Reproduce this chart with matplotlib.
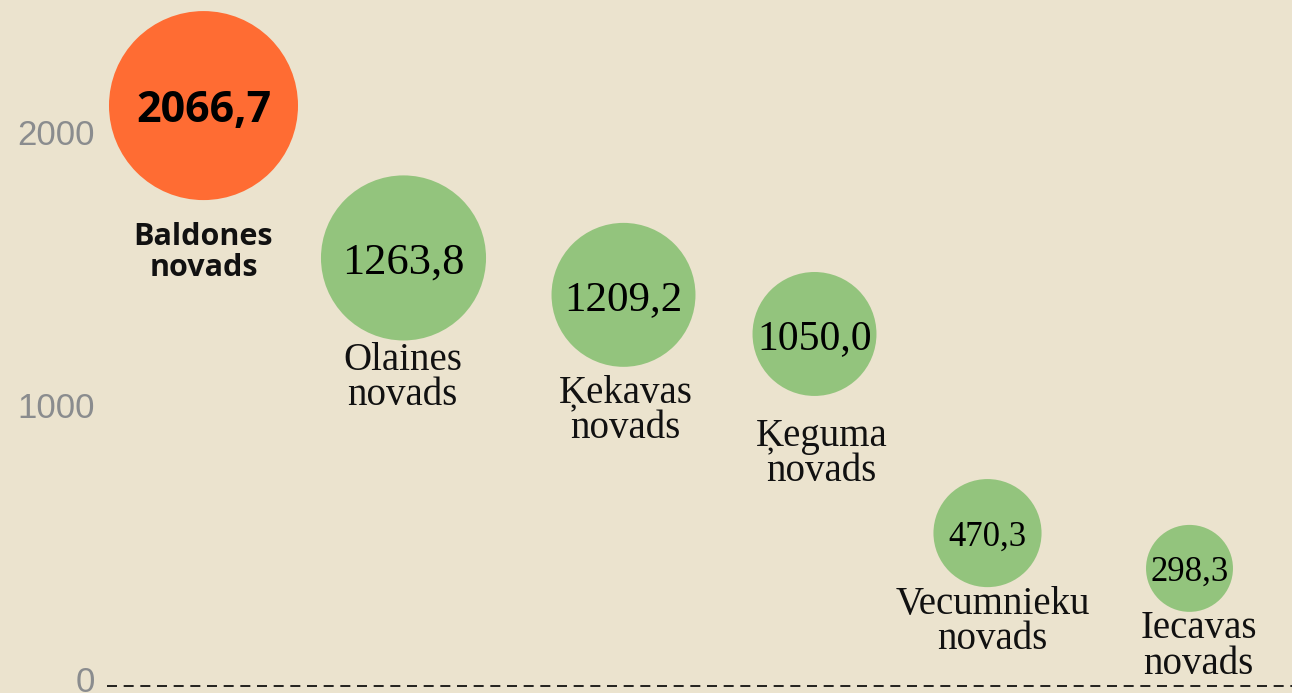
import matplotlib
matplotlib.use("Agg")
import matplotlib.pyplot as plt
import matplotlib.transforms as mtransforms

# data
names = ["Baldones\nnovads", "Olaines\nnovads", "Ķekavas\nnovads",
         "Ķeguma\nnovads", "Vecumnieku\nnovads", "Iecavas\nnovads"]
values = [2066.7, 1263.8, 1209.2, 1050.0, 470.3, 298.3]
xpos = [1.0, 2.0, 3.1, 4.055, 4.92, 5.93]
ypos = [2122, 1565, 1430, 1287, 559, 430]
weight = [89.3, 68.1, 51.8, 38.4, 29.2, 18.9]
yticks = [0, 1000, 2000]

bg = "#ebe3ce"
orange = "#ff6c33"
green = "#93c47d"

fig = plt.figure(figsize=(12.92, 6.93), dpi=100)
fig.patch.set_facecolor(bg)
ax = fig.add_axes([107 / 1292, 0, 1 - 107 / 1292, 1])
ax.set_facecolor(bg)
ax.set_xlim(0.5175, 6.4425)
ax.set_ylim(-25.6, 2508)

for s in ax.spines.values():
    s.set_visible(False)
ax.set_xticks([])
ax.set_yticks(yticks)
ax.set_yticklabels([str(t) for t in yticks])
ax.tick_params(axis="y", length=0, pad=8.6, labelsize=25, labelcolor="#8a8c8e")
shift = mtransforms.ScaledTranslation(0, 7 / 100, fig.dpi_scale_trans)
for lab in ax.get_yticklabels():
    lab.set_fontfamily("Liberation Sans")
    lab.set_transform(lab.get_transform() + shift)

ax.axhline(0, color="black", lw=1.2, ls=(0, (6, 4)), zorder=1)

colors = [orange] + [green] * (len(values) - 1)
ax.scatter(xpos, ypos, s=[w * 207.4 for w in weight], c=colors,
           linewidths=0, zorder=2, clip_on=False)

# value text inside bubbles
val_sizes = [31, 32, 31, 30, 25, 25]
for i, v in enumerate(values):
    txt = f"{v:.1f}".replace(".", ",")
    if i == 0:
        ax.text(xpos[i], ypos[i], txt, ha="center", va="center_baseline",
                fontsize=val_sizes[i], fontweight="bold", family="Open Sans",
                color="black", zorder=3)
    else:
        ax.text(xpos[i], ypos[i], txt, ha="center", va="center_baseline",
                fontsize=val_sizes[i], family="Liberation Serif",
                color="black", zorder=3)

# name labels under bubbles (offsets in px)
lab_dx = [0, -1, 2, 7, 5, 9]
lab_dy = [147, 120, 116, 120, 89, 78]
for i, nm in enumerate(names):
    if i == 0:
        kw = dict(fontsize=22, fontweight="bold", family="Open Sans", linespacing=1.05)
    else:
        kw = dict(fontsize=28, family="Liberation Serif", linespacing=0.94)
    ax.annotate(nm, (xpos[i], ypos[i]), xytext=(lab_dx[i] * 0.72, -lab_dy[i] * 0.72),
                textcoords="offset points", ha="center", va="center",
                color="#111111", annotation_clip=False, **kw)

fig.savefig("out.png", dpi=100, facecolor=bg)
